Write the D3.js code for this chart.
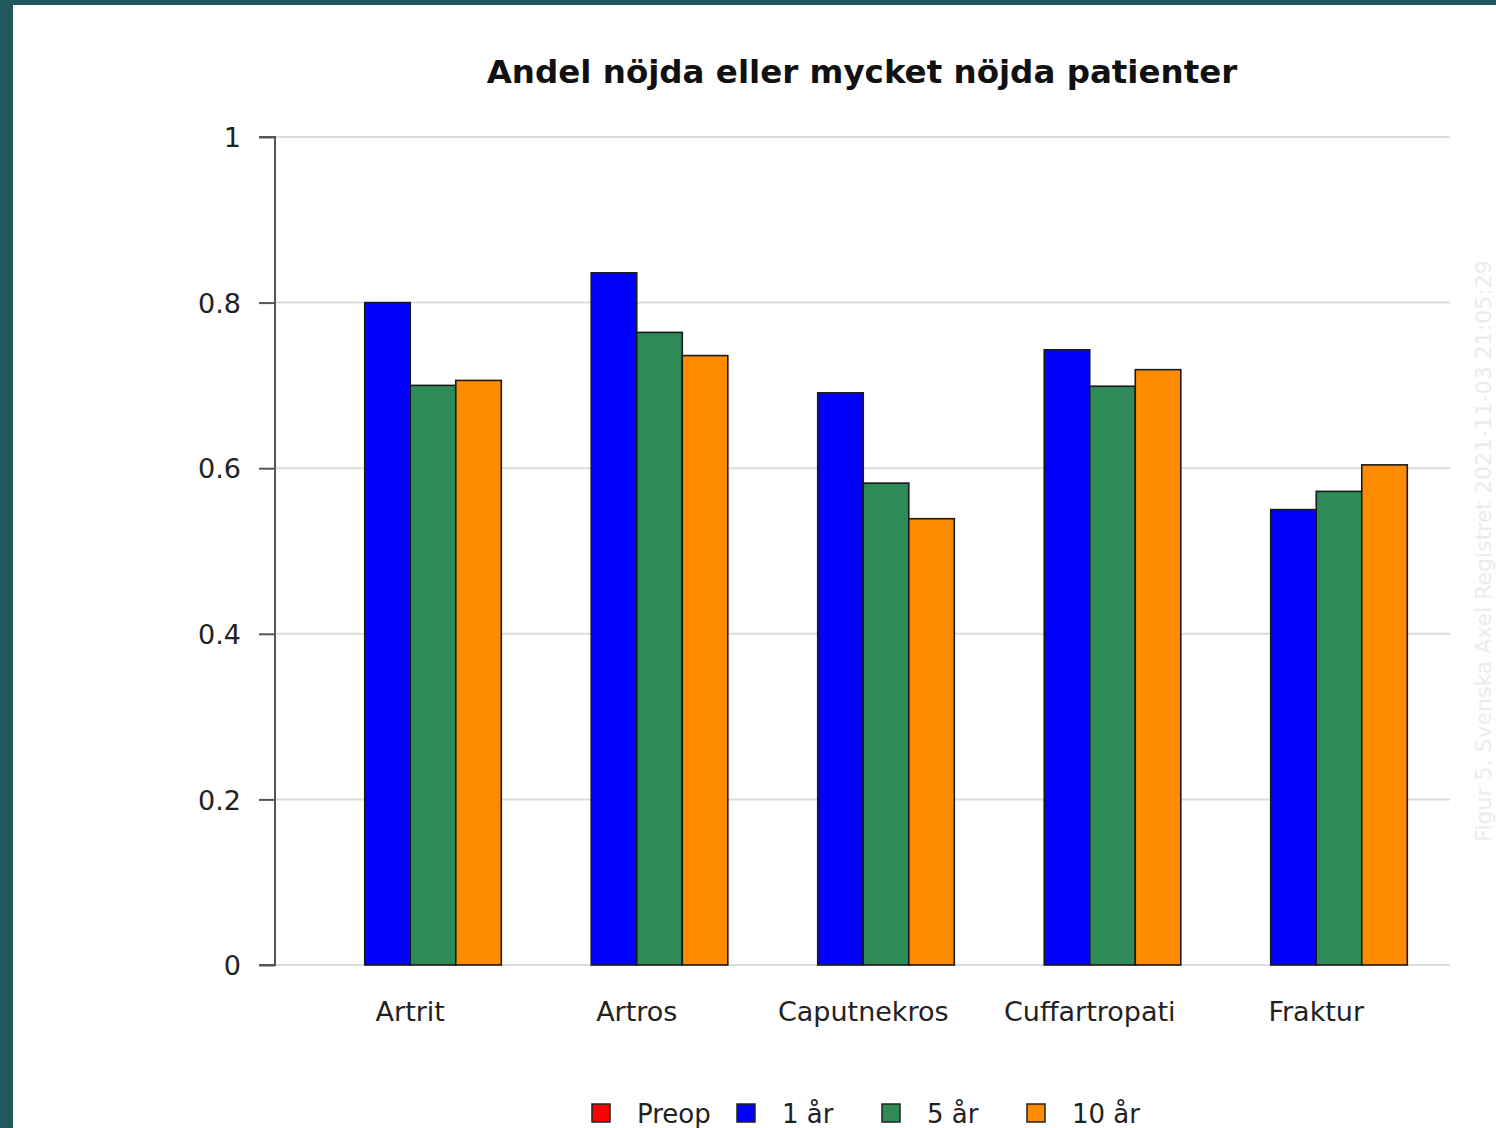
<!DOCTYPE html>
<html><head><meta charset="utf-8">
<script src="https://cdn.jsdelivr.net/npm/d3@7"></script>
<style>
html,body{margin:0;padding:0;background:#fff;}
svg{display:block;}
</style></head>
<body>
<svg id="chart" width="1496" height="1128"></svg>
<script>
const categories = ["Artrit", "Artros", "Caputnekros", "Cuffartropati", "Fraktur"];
const seriesNames = ["Preop", "1 år", "5 år", "10 år"];
const seriesColors = ["#ff0000", "#0000ff", "#2e8b57", "#ff8c00"];
const preop = [null, null, null, null, null];
const year1 = [0.800, 0.836, 0.691, 0.743, 0.550];
const year5 = [0.700, 0.764, 0.582, 0.699, 0.572];
const year10 = [0.706, 0.736, 0.539, 0.719, 0.604];
const yTicks = [0, 0.2, 0.4, 0.6, 0.8, 1];
const seriesValues = [preop, year1, year5, year10];

const svg = d3.select("#chart");
const font = "'DejaVu Sans', sans-serif";

// page frame
svg.append("rect").attr("x",0).attr("y",0).attr("width",1496).attr("height",1128).attr("fill","#22595c");
svg.append("rect").attr("x",13).attr("y",5).attr("width",1483).attr("height",1123).attr("fill","#ffffff");

const mLeft = 275, mRight = 1450, mTop = 137, mBottom = 965;
const y = d3.scaleLinear().domain([0,1]).range([mBottom, mTop]);
const x0 = d3.scaleBand().domain(categories).range([297, 1429.5]).paddingInner(0.196).paddingOuter(0.098);
const x1 = d3.scaleBand().domain(seriesNames).range([0, x0.bandwidth()]);

// grid
svg.append("g").selectAll("line").data(yTicks).join("line")
  .attr("x1", mLeft).attr("x2", mRight)
  .attr("y1", d=>y(d)).attr("y2", d=>y(d))
  .attr("stroke","#dcdcdc").attr("stroke-width",2);

// bars
const groups = svg.append("g").selectAll("g").data(categories).join("g")
  .attr("transform", c => `translate(${x0(c)},0)`);
groups.selectAll("rect")
  .data((c,i) => seriesNames.map((s,j) => ({s, v: seriesValues[j][i], color: seriesColors[j]})).filter(d => d.v != null))
  .join("rect")
  .attr("x", d => x1(d.s))
  .attr("width", x1.bandwidth())
  .attr("y", d => y(d.v))
  .attr("height", d => y(0) - y(d.v))
  .attr("fill", d => d.color)
  .attr("stroke", "#1a1a1a").attr("stroke-width", 1.6);

// y axis
const yAxis = d3.axisLeft(y).tickValues(yTicks).tickSize(16).tickPadding(18)
  .tickFormat(d => d3.format("")(d));
const ga = svg.append("g").attr("transform", `translate(${mLeft},0)`).call(yAxis);
ga.select(".domain").attr("stroke","#555").attr("stroke-width",2).attr("d", `M-16,${mTop}H0V${mBottom}H-16`);
ga.selectAll(".tick line").attr("stroke","#555").attr("stroke-width",2);
ga.selectAll(".tick text").attr("font-family", font).attr("font-size", 27).attr("fill","#222").attr("dy","0.36em");

// x labels
const xAxis = d3.axisBottom(x0).tickSize(0).tickPadding(37);
const gx = svg.append("g").attr("transform", `translate(0,${mBottom})`).call(xAxis);
gx.select(".domain").remove();
gx.selectAll(".tick text").attr("font-family", font).attr("font-size", 27).attr("fill","#222");

// title
svg.append("text").attr("x", 862).attr("y", 83).attr("text-anchor","middle")
  .attr("font-family", font).attr("font-weight","bold").attr("font-size", 32.5)
  .attr("fill","#111").text("Andel nöjda eller mycket nöjda patienter");

// legend
const lg = svg.append("g").selectAll("g").data(seriesNames).join("g")
  .attr("transform", (d,i) => `translate(${591 + i*145},1103)`);
lg.append("rect").attr("x",1).attr("y",1).attr("width",18).attr("height",18)
  .attr("fill",(d,i)=>seriesColors[i]).attr("stroke","#222").attr("stroke-width",1.5);
lg.append("text").attr("x",46).attr("y",20).attr("font-family",font).attr("font-size",26).attr("fill","#222").text(d=>d);

// watermark
svg.append("text").attr("transform","translate(1491,551) rotate(-90)").attr("text-anchor","middle")
  .attr("font-family",font).attr("font-size",22).attr("fill","#ebebeb")
  .text("Figur 5. Svenska Axel Registret 2021-11-03 21:05:29");
</script>
</body></html>
